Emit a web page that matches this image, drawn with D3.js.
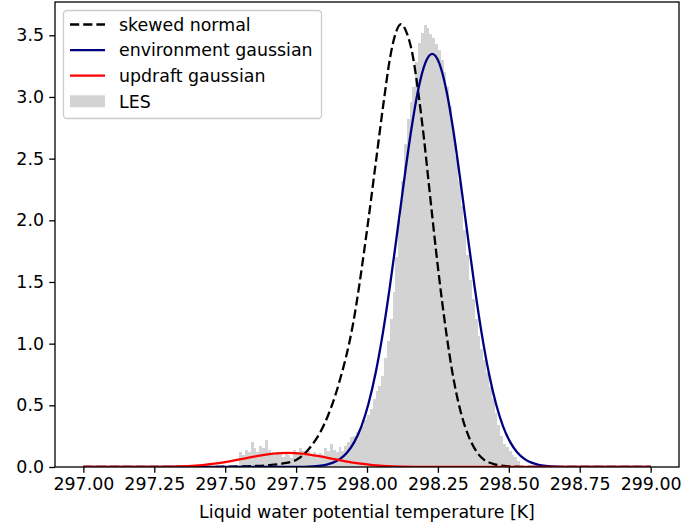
<!DOCTYPE html>
<html><head><meta charset="utf-8">
<script src="https://cdn.jsdelivr.net/npm/d3@7"></script>
<style>
html,body{margin:0;padding:0;background:#fff;}
svg text{font-family:"DejaVu Sans",sans-serif;fill:#000;}
</style></head>
<body><svg id="chart" width="683" height="529"></svg>
<script>
// ---- data ----
const xTicks = [297.00, 297.25, 297.50, 297.75, 298.00, 298.25, 298.50, 298.75, 299.00];
const yTicks = [0.0, 0.5, 1.0, 1.5, 2.0, 2.5, 3.0, 3.5];
const xLabel = "Liquid water potential temperature [K]";
const legendLabels = ["skewed normal", "environment gaussian", "updraft gaussian", "LES"];

// LES histogram (density), bins 0.01 K wide starting at 297.55
const lesBinEdges = [297.55,297.56,297.57,297.58,297.59,297.60,297.61,297.62,297.63,297.64,
 297.65,297.66,297.67,297.68,297.69,297.70,297.71,297.72,297.73,297.74,
 297.75,297.76,297.77,297.78,297.79,297.80,297.81,297.82,297.83,297.84,
 297.85,297.86,297.87,297.88,297.89,297.90,297.91,297.92,297.93,297.94,
 297.95,297.96,297.97,297.98,297.99,298.00,298.01,298.02,298.03,298.04,
 298.05,298.06,298.07,298.08,298.09,298.10,298.11,298.12,298.13,298.14,
 298.15,298.16,298.17,298.18,298.19,298.20,298.21,298.22,298.23,298.24,
 298.25,298.26,298.27,298.28,298.29,298.30,298.31,298.32,298.33,298.34,
 298.35,298.36,298.37,298.38,298.39,298.40,298.41,298.42,298.43,298.44,
 298.45,298.46,298.47,298.48,298.49,298.50,298.51,298.52,298.53,298.54];
const lesDensity = [0.12,0.10,0.14,0.12,0.20,0.15,0.12,0.17,0.15,0.22,
 0.14,0.11,0.10,0.12,0.11,0.08,0.12,0.10,0.07,0.14,
 0.12,0.15,0.13,0.11,0.13,0.10,0.12,0.09,0.11,0.10,
 0.15,0.13,0.19,0.14,0.12,0.16,0.13,0.17,0.20,0.24,
 0.25,0.28,0.30,0.33,0.38,0.42,0.47,0.55,0.62,0.66,
 0.74,0.88,1.02,1.20,1.42,1.70,2.00,2.32,2.62,2.82,
 2.96,3.08,3.28,3.44,3.52,3.58,3.56,3.51,3.48,3.43,
 3.38,3.30,3.20,3.08,2.93,2.72,2.52,2.32,2.12,1.92,
 1.72,1.52,1.36,1.20,1.06,0.96,0.87,0.76,0.65,0.55,
 0.44,0.34,0.25,0.19,0.16,0.13,0.10,0.08,0.05];

// skewed normal curve
const skewX = [297.00,297.40,297.50,297.60,297.65,297.70,297.75,297.80,297.85,297.90,297.95,298.00,298.03,298.06,298.08,298.10,298.12,298.14,298.16,298.18,298.20,298.22,298.25,298.28,298.30,298.33,298.36,298.40,298.45,298.50,298.55,298.60,299.00];
const skewY = [0,0,0.002,0.008,0.014,0.027,0.057,0.16,0.35,0.67,1.15,1.92,2.45,2.98,3.30,3.51,3.59,3.52,3.35,3.05,2.68,2.25,1.62,1.08,0.78,0.45,0.24,0.085,0.022,0.005,0.001,0,0];

// environment gaussian curve
const envX = [297.00,297.73,297.78,297.83,297.855,297.88,297.905,297.93,297.955,297.98,298.005,298.03,298.055,298.08,298.105,298.13,298.155,298.18,298.205,298.23,298.255,298.28,298.305,298.33,298.355,298.38,298.405,298.43,298.455,298.48,298.505,298.53,298.555,298.58,298.605,298.63,298.68,298.73,299.00];
const envY = [0,0.0003,0.0018,0.0088,0.018,0.035,0.066,0.118,0.202,0.328,0.511,0.758,1.073,1.452,1.875,2.310,2.718,3.053,3.273,3.35,3.273,3.053,2.718,2.310,1.875,1.452,1.073,0.758,0.511,0.328,0.202,0.118,0.066,0.035,0.018,0.0088,0.0018,0.0003,0];

// updraft gaussian curve
const updX = [297.00,297.22,297.32,297.37,297.42,297.47,297.52,297.57,297.62,297.67,297.72,297.77,297.82,297.87,297.92,297.97,298.02,298.07,298.12,298.22,299.00];
const updY = [0,0.0004,0.0033,0.0076,0.016,0.029,0.047,0.070,0.092,0.109,0.115,0.109,0.092,0.070,0.047,0.029,0.016,0.0076,0.0033,0.0004,0];

// ---- layout ----
const svg = d3.select("#chart");
const L = 55, R = 679, T = 2, B = 467;
const FS = 17.4;
const x = d3.scaleLinear().domain([296.9, 299.1]).range([L, R]);
const y = d3.scaleLinear().domain([0, 3.77]).range([B, T]);

svg.append("rect").attr("width",683).attr("height",529).attr("fill","#fff");
svg.append("defs").append("clipPath").attr("id","clip")
  .append("rect").attr("x",L).attr("y",T).attr("width",R-L).attr("height",B-T);

const plot = svg.append("g").attr("clip-path","url(#clip)");

// histogram
plot.append("g").selectAll("rect").data(lesDensity).join("rect")
  .attr("x",(d,i)=>x(lesBinEdges[i]))
  .attr("width",(d,i)=>x(lesBinEdges[i+1])-x(lesBinEdges[i]))
  .attr("y",d=>y(d)).attr("height",d=>y(0)-y(d))
  .attr("fill","#d3d3d3").attr("shape-rendering","crispEdges");

const line = d3.line().x(d=>x(d[0])).y(d=>y(d[1])).curve(d3.curveMonotoneX);
const LW = 2.3;
plot.append("path").datum(d3.zip(skewX,skewY)).attr("d",line)
  .attr("fill","none").attr("stroke","#000").attr("stroke-width",LW).attr("stroke-dasharray","9.2,4");
plot.append("path").datum(d3.zip(envX,envY)).attr("d",line)
  .attr("fill","none").attr("stroke","#000080").attr("stroke-width",LW);
plot.append("path").datum(d3.zip(updX,updY)).attr("d",line)
  .attr("fill","none").attr("stroke","#ff0000").attr("stroke-width",LW);

// axes
const xAxis = d3.axisBottom(x).tickValues(xTicks).tickFormat(d3.format(".2f")).tickSize(5.8).tickPadding(5.2);
const yAxis = d3.axisLeft(y).tickValues(yTicks).tickFormat(d3.format(".1f")).tickSize(5.8).tickPadding(5.2);
const gx = svg.append("g").attr("transform",`translate(0,${B})`).call(xAxis);
const gy = svg.append("g").attr("transform",`translate(${L},0)`).call(yAxis);
[gx,gy].forEach(g=>{
  g.select(".domain").remove();
  g.selectAll(".tick line").attr("stroke","#000").attr("stroke-width",1.3);
  g.selectAll(".tick text").attr("font-size",FS).attr("font-family","DejaVu Sans").attr("fill","#000");
});
// frame
svg.append("rect").attr("x",L).attr("y",T).attr("width",R-L).attr("height",B-T)
  .attr("fill","none").attr("stroke","#000").attr("stroke-width",1.3);

svg.append("text").attr("x",(L+R)/2).attr("y",518).attr("text-anchor","middle")
  .attr("font-size",FS).text(xLabel);

// legend
const lg = svg.append("g");
const lx = 63.5, ly = 10.5, rowH = 25.6;
lg.append("rect").attr("x",lx).attr("y",ly).attr("width",258).attr("height",108).attr("rx",3.5)
  .attr("fill","#fff").attr("fill-opacity",0.8).attr("stroke","#cccccc").attr("stroke-width",1.3);
const styles = [
  {type:"line", color:"#000", dash:"9.2,4"},
  {type:"line", color:"#000080", dash:null},
  {type:"line", color:"#ff0000", dash:null},
  {type:"patch", color:"#d3d3d3"}];
legendLabels.forEach((lab,i)=>{
  const cy = 24.5 + i*rowH;
  const s = styles[i];
  if (s.type==="line") {
    lg.append("line").attr("x1",70).attr("x2",105).attr("y1",cy).attr("y2",cy)
      .attr("stroke",s.color).attr("stroke-width",LW).attr("stroke-dasharray",s.dash);
  } else {
    lg.append("rect").attr("x",70).attr("y",cy-6).attr("width",35).attr("height",12).attr("fill",s.color);
  }
  lg.append("text").attr("x",119).attr("y",cy).attr("dy","0.36em").attr("font-size",FS).text(lab);
});
</script></body></html>
